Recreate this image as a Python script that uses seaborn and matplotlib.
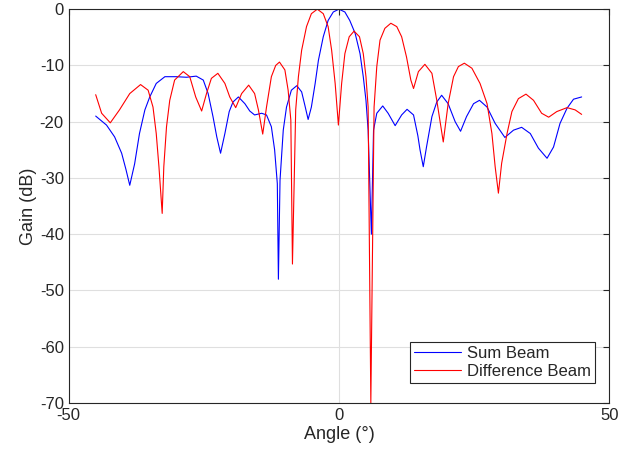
import numpy as np
import pandas as pd
import matplotlib
matplotlib.use("Agg")
import matplotlib.pyplot as plt
import seaborn as sns

# angle (deg) / gain (dB)
sum_angle = [-45.0, -43.0, -41.5, -40.2, -39.4, -38.7, -37.8, -36.9, -35.9, -35.0,
             -33.8, -32.2, -30.1, -28.2, -26.4, -25.1, -24.2, -23.3, -22.6, -21.9,
             -21.1, -20.3, -19.6, -18.6, -17.4, -16.5, -15.6, -14.3, -13.4, -12.5,
             -11.9, -11.4, -11.2, -10.9, -10.3, -9.7, -8.8, -7.8, -6.9, -6.3,
             -5.7, -5.1, -4.4, -3.8, -2.9, -2.0, -1.05, 0.0, 1.1, 2.0,
             3.0, 3.9, 4.5, 5.0, 5.4, 6.0, 6.4, 7.0, 8.1, 9.1,
             10.4, 11.6, 12.6, 13.8, 14.6, 15.0, 15.6, 16.2, 17.2, 18.1,
             19.0, 20.2, 21.5, 22.5, 23.6, 24.9, 26.0, 27.4, 28.9, 30.7,
             32.3, 33.8, 35.4, 36.9, 38.5, 39.7, 40.9, 42.2, 43.4, 44.9]
sum_gain = [-19.0, -20.6, -22.7, -25.6, -28.5, -31.3, -27.5, -22.1, -17.9, -15.6,
            -13.2, -12.0, -12.0, -12.1, -11.9, -12.6, -15.0, -19.1, -22.7, -25.6,
            -22.1, -18.2, -16.5, -15.6, -16.8, -18.1, -18.8, -18.5, -18.8, -20.9,
            -25.0, -31.0, -48.0, -30.4, -21.5, -17.4, -14.4, -13.6, -14.7, -17.1,
            -19.6, -17.4, -13.2, -9.1, -4.9, -2.0, -0.5, 0.0, -0.5, -2.0,
            -4.3, -7.9, -12.0, -16.2, -21.5, -40.0, -21.5, -18.5, -17.2, -18.5,
            -20.7, -18.8, -17.8, -18.8, -22.5, -25.0, -28.0, -24.5, -19.1, -16.5,
            -15.3, -16.8, -20.0, -21.7, -19.1, -16.8, -16.2, -17.4, -20.3, -22.8,
            -21.5, -21.0, -22.1, -24.7, -26.5, -24.5, -20.3, -17.6, -16.0, -15.6]

diff_angle = [-45.0, -43.9, -42.3, -40.6, -38.7, -36.7, -35.3, -34.4, -33.8, -33.3,
              -32.7, -32.4, -31.9, -31.3, -30.4, -28.8, -27.6, -26.5, -25.4, -24.5,
              -23.6, -22.4, -21.1, -20.2, -19.1, -18.0, -16.7, -15.6, -14.9, -14.1,
              -13.4, -12.5, -11.7, -11.0, -10.0, -9.4, -8.9, -8.6, -8.0, -7.5,
              -6.9, -6.0, -5.1, -4.0, -2.9, -2.0, -1.35, -0.7, -0.1, 0.5,
              1.1, 1.9, 2.8, 3.8, 4.5, 5.0, 5.4, 5.9, 6.5, 7.0,
              7.6, 8.5, 9.6, 10.7, 11.6, 12.5, 13.3, 13.8, 14.7, 15.9,
              17.2, 18.1, 19.3, 20.2, 21.2, 22.1, 23.2, 24.6, 26.1, 27.4,
              28.3, 28.9, 29.5, 30.1, 31.1, 32.0, 33.2, 34.6, 36.0, 37.5,
              38.8, 40.3, 42.2, 43.7, 44.9]
diff_gain = [-15.2, -18.5, -20.2, -17.9, -15.0, -13.4, -14.4, -17.4, -22.1, -28.0,
             -36.3, -28.0, -20.9, -16.2, -12.6, -11.1, -12.0, -15.6, -18.1, -15.0,
             -12.3, -11.4, -13.2, -15.6, -17.5, -15.0, -13.5, -15.0, -17.9, -22.2,
             -17.4, -12.0, -10.0, -9.4, -10.8, -14.4, -19.7, -45.3, -17.9, -12.0,
             -7.3, -3.1, -0.8, 0.0, -0.8, -3.1, -7.3, -13.2, -20.6, -13.2,
             -7.9, -4.9, -3.9, -4.9, -7.9, -12.0, -17.4, -70.0, -17.4, -10.2,
             -5.5, -3.4, -2.5, -3.1, -4.9, -8.5, -12.6, -14.1, -11.1, -9.8,
             -11.4, -16.2, -23.6, -16.8, -12.0, -10.2, -9.6, -10.5, -13.2, -16.8,
             -22.1, -28.0, -32.7, -27.4, -22.1, -18.2, -15.9, -15.1, -16.2, -18.5,
             -19.2, -18.2, -17.5, -17.9, -18.7]

df = pd.concat([
    pd.DataFrame({"Angle": sum_angle, "Gain": sum_gain, "Beam": "Sum Beam"}),
    pd.DataFrame({"Angle": diff_angle, "Gain": diff_gain, "Beam": "Difference Beam"}),
])

sns.set_style("white")
plt.rcParams['font.family'] = ['Liberation Sans', 'DejaVu Sans']
plt.rcParams['axes.unicode_minus'] = False

fig = plt.figure(figsize=(6.3, 4.59), dpi=100)
ax = fig.add_axes([0.109, 0.122, 0.858, 0.858])

sns.lineplot(data=df, x="Angle", y="Gain", hue="Beam",
             palette={"Sum Beam": "#0000ff", "Difference Beam": "#ff0000"},
             linewidth=0.8, ax=ax, estimator=None, sort=False)

ax.set_xlim(-50, 50)
ax.set_ylim(-70, 0)
ax.set_xticks([-50, 0, 50])
ax.set_yticks(np.arange(-70, 1, 10))
ax.grid(True, color="#dfdfdf", linewidth=0.8)
ax.set_axisbelow(True)
for s in ax.spines.values():
    s.set_color("#262626")
    s.set_linewidth(0.8)
ax.tick_params(direction="in", length=4, width=0.8, color="#262626",
               top=True, right=True, labelsize=12, labelcolor="#262626")
ax.set_xlabel("Angle (°)", fontsize=13, color="#262626", labelpad=2)
ax.set_ylabel("Gain (dB)", fontsize=13, color="#262626", labelpad=2)

leg = ax.legend(loc="lower right", fontsize=12, frameon=True, fancybox=False,
                edgecolor="#262626", framealpha=1, borderpad=0.25,
                handlelength=2.8, handletextpad=0.4, labelspacing=0.15,
                bbox_to_anchor=(0.99, 0.03))
leg.get_frame().set_linewidth(0.8)

fig.savefig("out.png", dpi=100)
